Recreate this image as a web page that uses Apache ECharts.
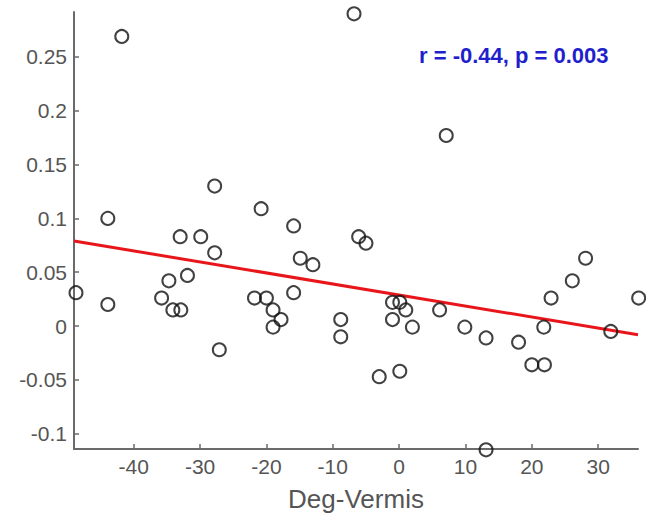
<!DOCTYPE html>
<html>
<head>
<meta charset="utf-8">
<script src="https://cdn.jsdelivr.net/npm/echarts@6/dist/echarts.min.js"></script>
<style>
  html, body { margin: 0; padding: 0; background: #fff; }
  #chart { width: 646px; height: 519px; }
</style>
</head>
<body>
<div id="chart"></div>
<script>
// values
const degVermis = [-48.7, -43.9, -43.9, -41.8, -35.8, -34.7, -34.1, -33.0, -32.9, -31.9,
  -29.9, -27.8, -27.8, -27.1, -21.8, -20.8, -20.0, -19.0, -19.0, -17.8,
  -15.9, -15.9, -14.9, -13.0, -8.8, -8.8, -6.8, -6.1, -5.0, -3.0,
  -1.0, 0.1, 1.0, -1.0, 0.1, 2.0, 6.1, 7.1, 9.9, 13.1,
  13.1, 18.0, 20.0, 21.9, 21.8, 22.9, 26.1, 28.1, 31.9, 36.1];
const yValues = [0.031, 0.020, 0.100, 0.269, 0.026, 0.042, 0.015, 0.083, 0.015, 0.047,
  0.083, 0.130, 0.068, -0.022, 0.026, 0.109, 0.026, 0.015, -0.001, 0.006,
  0.093, 0.031, 0.063, 0.057, 0.006, -0.010, 0.290, 0.083, 0.077, -0.047,
  0.022, 0.022, 0.015, 0.006, -0.042, -0.001, 0.015, 0.177, -0.001, -0.011,
  -0.115, -0.015, -0.036, -0.036, -0.001, 0.026, 0.042, 0.063, -0.005, 0.026];
// fit line end points
const fitX = [-49, 36];
const fitY = [0.079, -0.008];
const xTicks = [-40, -30, -20, -10, 0, 10, 20, 30];
const yTicks = [-0.1, -0.05, 0, 0.05, 0.1, 0.15, 0.2, 0.25];
const statText = 'r = -0.44, p = 0.003';

const axisGray = '#6a6a6a';
const labelGray = '#555';

const chart = echarts.init(document.getElementById('chart'), null, { renderer: 'svg' });

chart.setOption({
  animation: false,
  backgroundColor: '#fff',
  grid: { left: 74, right: 8, top: 12, bottom: 70, outerBoundsMode: 'none' },
  xAxis: {
    type: 'value',
    min: -49,
    max: 36,
    name: 'Deg-Vermis',
    nameLocation: 'middle',
    nameGap: 37,
    nameTextStyle: { fontFamily: 'Liberation Sans', fontSize: 26, color: labelGray },
    splitLine: { show: false },
    axisLine: { onZero: false, lineStyle: { color: axisGray, width: 2 } },
    axisTick: { inside: true, length: 5, customValues: xTicks, lineStyle: { color: axisGray, width: 1.5 } },
    axisLabel: {
      customValues: xTicks,
      margin: 7,
      fontFamily: 'Liberation Sans',
      fontSize: 21,
      color: labelGray
    }
  },
  yAxis: {
    type: 'value',
    min: -0.1142,
    max: 0.2917,
    splitLine: { show: false },
    axisLine: { onZero: false, lineStyle: { color: axisGray, width: 2 } },
    axisTick: { inside: true, length: 5, customValues: yTicks, lineStyle: { color: axisGray, width: 1.5 } },
    axisLabel: {
      customValues: yTicks,
      margin: 7,
      fontFamily: 'Liberation Sans',
      fontSize: 21,
      color: labelGray,
      formatter: v => String(Math.round(v * 100) / 100)
    }
  },
  graphic: [{
    type: 'text',
    left: 419,
    top: 44,
    style: {
      text: statText,
      fill: '#1f1fcc',
      font: 'bold 22px "Liberation Sans"'
    }
  }],
  series: [
    {
      type: 'scatter',
      data: degVermis.map((x, i) => [x, yValues[i]]),
      symbol: 'circle',
      symbolSize: 13,
      clip: false,
      itemStyle: { color: 'rgba(255,255,255,0)', borderColor: '#111', borderWidth: 2 },
      z: 3
    },
    {
      type: 'line',
      data: fitX.map((x, i) => [x, fitY[i]]),
      showSymbol: false,
      lineStyle: { color: '#e8161b', width: 3 },
      z: 2
    }
  ]
});
</script>
</body>
</html>
